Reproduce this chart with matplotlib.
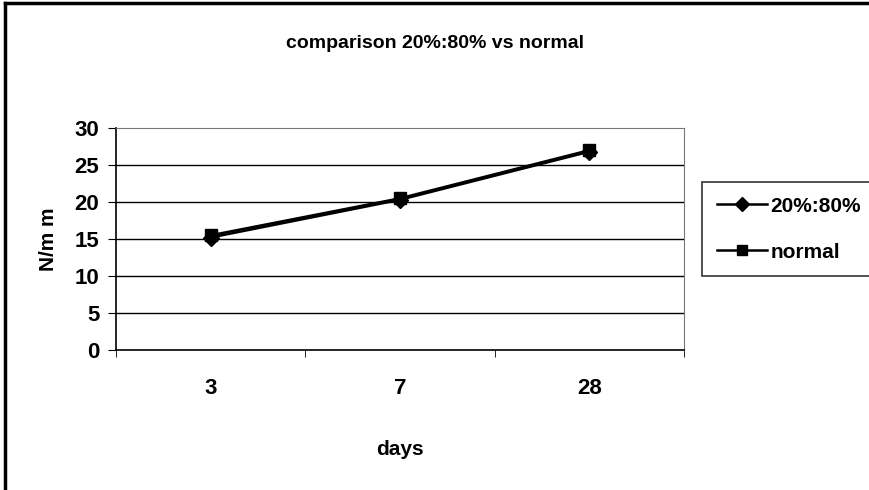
import matplotlib
matplotlib.use("Agg")
import matplotlib.pyplot as plt
from matplotlib.lines import Line2D

categories = ["3", "7", "28"]
series_a = [15.2, 20.3, 26.8]   # 20%:80%
series_b = [15.5, 20.5, 27.0]   # normal
series_names = ["20%:80%", "normal"]
yticks = [0, 5, 10, 15, 20, 25, 30]

plt.rcParams['font.family'] = ['Liberation Sans', 'DejaVu Sans']
plt.rcParams['font.weight'] = 'bold'

fig = plt.figure(figsize=(8.7, 4.9), dpi=100)
ax = fig.add_axes([116/870, 1-350/490, (684-116)/870, (350-128)/490])

x = list(range(len(categories)))
ax.plot(x, series_a, color='black', lw=1.8, marker='D', ms=8, label=series_names[0], zorder=3)
ax.plot(x, series_b, color='black', lw=1.8, marker='s', ms=8, label=series_names[1], zorder=3)

ax.set_xlim(-0.5, len(categories)-0.5)
ax.set_ylim(0, 30)
ax.set_yticks(yticks)
ax.set_yticklabels([str(v) for v in yticks], fontsize=16, fontweight='bold')
ax.set_xticks(x)
ax.set_xticklabels(categories, fontsize=16, fontweight='bold')
ax.tick_params(axis='x', which='major', length=0, pad=20)
ax.set_xticks([i - 0.5 for i in range(len(categories)+1)], minor=True)
ax.tick_params(axis='x', which='minor', length=5, direction='out', color='black')
ax.tick_params(axis='y', length=6, direction='out', pad=6)

for v in yticks[1:-1]:
    ax.axhline(v, color='black', lw=1.0, zorder=1)

ax.spines['left'].set_color('black')
ax.spines['bottom'].set_color('black')
ax.spines['left'].set_linewidth(1.2)
ax.spines['bottom'].set_linewidth(1.2)
ax.spines['top'].set_color('#777777')
ax.spines['top'].set_linestyle((0, (2, 1)))
ax.spines['right'].set_color('#777777')
ax.spines['right'].set_linestyle((0, (2, 1)))

ax.set_xlabel("days", fontsize=15, fontweight='bold', labelpad=30)
ax.set_ylabel("N/m m", fontsize=15, fontweight='bold', labelpad=12)

fig.text(0.5, 1-43/490, "comparison 20%:80% vs normal", ha='center', va='center',
         fontsize=14, fontweight='bold')

leg = fig.legend(handles=ax.get_lines(), labels=series_names,
                 loc='upper left', bbox_to_anchor=(702/870, 1-187/490, 0.25, 0.01),
                 mode='expand',
                 fontsize=15, frameon=True, fancybox=False, edgecolor='black',
                 handlelength=2.4, borderpad=0.7, labelspacing=1.3,
                 handletextpad=0.2, borderaxespad=0, markerscale=0.85)
leg.get_frame().set_linewidth(1.2)
leg._legend_box.align = 'left'

# outer chart border (left and top visible)
fig.add_artist(Line2D([5/870, 5/870], [0, 1-3/490], transform=fig.transFigure, color='black', lw=2.5))
fig.add_artist(Line2D([5/870, 1], [1-3/490, 1-3/490], transform=fig.transFigure, color='black', lw=2.5))

fig.savefig("out.png", dpi=100)
